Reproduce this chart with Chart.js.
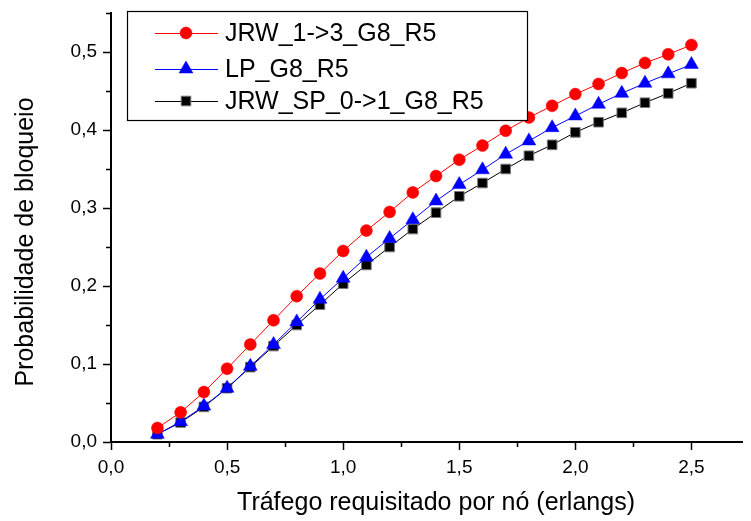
<!DOCTYPE html>
<html>
<head>
<meta charset="utf-8">
<script src="https://cdn.jsdelivr.net/npm/chart.js@4/dist/chart.umd.min.js"></script>
<style>
  html, body { margin: 0; padding: 0; background: #fff; }
  #wrap { width: 751px; height: 521px; }
</style>
</head>
<body>
<div id="wrap"><canvas id="c" width="751" height="521"></canvas></div>
<script>
// Offered traffic per node (erlangs)
const trafego = [0.2, 0.3, 0.4, 0.5, 0.6, 0.7, 0.8, 0.9, 1.0, 1.1, 1.2, 1.3,
                 1.4, 1.5, 1.6, 1.7, 1.8, 1.9, 2.0, 2.1, 2.2, 2.3, 2.4, 2.5];

// Blocking probability per algorithm
const jrw13 = [0.018, 0.038, 0.064, 0.094, 0.125, 0.156, 0.187, 0.216, 0.245, 0.271, 0.295, 0.320,
               0.341, 0.362, 0.380, 0.399, 0.416, 0.431, 0.446, 0.459, 0.473, 0.486, 0.497, 0.509];
const lp = [0.010, 0.026, 0.046, 0.069, 0.097, 0.125, 0.154, 0.183, 0.210, 0.237, 0.261, 0.285,
            0.309, 0.330, 0.349, 0.369, 0.386, 0.403, 0.418, 0.433, 0.447, 0.460, 0.472, 0.484];
const jrwSp01 = [0.010, 0.025, 0.045, 0.069, 0.096, 0.123, 0.150, 0.176, 0.203, 0.227, 0.250, 0.273,
                 0.294, 0.315, 0.332, 0.350, 0.367, 0.381, 0.397, 0.410, 0.422, 0.435, 0.447, 0.460];

const seriesNames = ['JRW_1->3_G8_R5', 'LP_G8_R5', 'JRW_SP_0->1_G8_R5'];
const xTitle = 'Tráfego requisitado por nó (erlangs)';
const yTitle = 'Probabilidade de bloqueio';

const FONT = '"Liberation Sans", Arial, sans-serif';

function pts(ys) { return trafego.map((x, i) => ({ x: x, y: ys[i] })); }
function fmt(v) { return v.toFixed(1).replace('.', ','); }
function isMajor(v, step) { return Math.abs(v / step - Math.round(v / step)) < 1e-6; }

// Short minor ticks drawn outside the axes
const minorTicks = {
  id: 'minorTicks',
  afterDraw(chart) {
    const ctx = chart.ctx;
    ctx.save();
    ctx.strokeStyle = '#000';
    ctx.lineWidth = 1.5;
    const xs = chart.scales.x, ys = chart.scales.y;
    xs.ticks.forEach(t => {
      if (isMajor(t.value, 0.5)) return;
      const px = Math.round(xs.getPixelForValue(t.value)) + 0.5;
      ctx.beginPath(); ctx.moveTo(px, xs.top); ctx.lineTo(px, xs.top + 5); ctx.stroke();
    });
    ys.ticks.forEach(t => {
      if (isMajor(t.value, 0.1)) return;
      const py = Math.round(ys.getPixelForValue(t.value)) + 0.5;
      ctx.beginPath(); ctx.moveTo(ys.right, py); ctx.lineTo(ys.right - 5, py); ctx.stroke();
    });
    ctx.restore();
  }
};

// Axis titles
const axisTitles = {
  id: 'axisTitles',
  afterDraw(chart) {
    const ctx = chart.ctx;
    ctx.save();
    ctx.fillStyle = '#000';
    ctx.font = '25px ' + FONT;
    ctx.textAlign = 'center';
    ctx.textBaseline = 'alphabetic';
    ctx.fillText(xTitle, 436, 510);
    ctx.translate(33, 242);
    ctx.rotate(-Math.PI / 2);
    ctx.fillText(yTitle, 0, 0);
    ctx.restore();
  }
};

// Boxed legend in the upper left of the plot
const boxLegend = {
  id: 'boxLegend',
  afterDraw(chart) {
    const ctx = chart.ctx;
    ctx.save();
    const bx = 127.5, by = 11.5, bw = 400, bh = 109;
    ctx.fillStyle = '#fff';
    ctx.fillRect(bx, by, bw, bh);
    ctx.strokeStyle = '#000';
    ctx.lineWidth = 1.2;
    ctx.strokeRect(bx, by, bw, bh);
    const rows = [33, 69, 101];
    chart.data.datasets.forEach((ds, i) => {
      const y = rows[i];
      ctx.strokeStyle = ds.borderColor;
      ctx.lineWidth = 1;
      ctx.beginPath(); ctx.moveTo(155, y + 0.5); ctx.lineTo(218, y + 0.5); ctx.stroke();
      ctx.fillStyle = ds.pointBackgroundColor;
      ctx.strokeStyle = ds.pointBorderColor;
      ctx.lineWidth = ds.pointBorderWidth;
      Chart.helpers.drawPoint(ctx, {
        pointStyle: ds.pointStyle,
        radius: ds.pointRadius,
        rotation: 0,
        borderWidth: ds.pointBorderWidth
      }, 186, y);
      ctx.fillStyle = '#000';
      ctx.font = '25px ' + FONT;
      ctx.textBaseline = 'middle';
      ctx.textAlign = 'left';
      ctx.fillText(seriesNames[i], 225, y + 1);
    });
    ctx.restore();
  }
};

const chart = new Chart(document.getElementById('c'), {
  type: 'scatter',
  data: {
    datasets: [
      {
        label: seriesNames[0], data: pts(jrw13), showLine: true,
        borderColor: '#ff0000', borderWidth: 1,
        pointStyle: 'circle', pointRadius: 6, pointBorderWidth: 0.5,
        pointBackgroundColor: '#ff0000', pointBorderColor: '#ff0000'
      },
      {
        label: seriesNames[1], data: pts(lp), showLine: true,
        borderColor: '#0000ff', borderWidth: 1,
        pointStyle: 'triangle', pointRadius: 8, pointBorderWidth: 0.5,
        pointBackgroundColor: '#0000ff', pointBorderColor: '#0000ff'
      },
      {
        label: seriesNames[2], data: pts(jrwSp01), showLine: true,
        borderColor: '#000000', borderWidth: 1,
        pointStyle: 'rect', pointRadius: 6.8, pointBorderWidth: 1,
        pointBackgroundColor: '#000000', pointBorderColor: '#777777'
      }
    ]
  },
  options: {
    responsive: false,
    animation: false,
    layout: { padding: { left: 0, right: 1, top: 13, bottom: 0 } },
    plugins: { legend: { display: false }, tooltip: { enabled: false } },
    scales: {
      x: {
        type: 'linear', min: 0, max: 2.72,
        afterFit(s) { s.height = 79; s.paddingLeft = 0; s.paddingRight = 0; },
        grid: {
          display: true, drawOnChartArea: false, drawTicks: true, tickLength: 8, tickWidth: 1.5,
          tickColor: c => (c.tick && isMajor(c.tick.value, 0.5)) ? '#000' : 'rgba(0,0,0,0)'
        },
        border: { display: true, color: '#000', width: 2 },
        ticks: {
          stepSize: 0.25, includeBounds: false, autoSkip: false, maxRotation: 0,
          padding: 6, color: '#000', font: { family: FONT, size: 19 },
          callback: v => isMajor(v, 0.5) ? fmt(v) : ''
        },
        title: { display: false }
      },
      y: {
        type: 'linear', min: 0, max: 0.55,
        afterFit(s) { s.width = 111; s.paddingTop = 0; s.paddingBottom = 0; },
        grid: {
          display: true, drawOnChartArea: false, drawTicks: true, tickLength: 8, tickWidth: 1.5,
          tickColor: c => (c.tick && isMajor(c.tick.value, 0.1)) ? '#000' : 'rgba(0,0,0,0)'
        },
        border: { display: true, color: '#000', width: 2 },
        ticks: {
          stepSize: 0.05, autoSkip: false,
          padding: 6, color: '#000', font: { family: FONT, size: 19 },
          callback: v => isMajor(v, 0.1) ? fmt(v) : ''
        },
        title: { display: false }
      }
    }
  },
  plugins: [minorTicks, axisTitles, boxLegend]
});
</script>
</body>
</html>
